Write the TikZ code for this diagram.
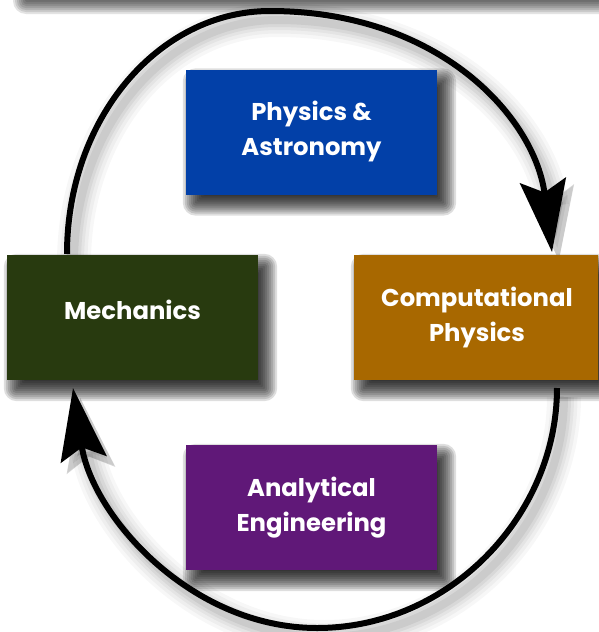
\documentclass[tikz,border=0pt]{standalone}
\usepackage{fontspec}
\setmainfont{Poppins}
\usetikzlibrary{arrows.meta}
\definecolor{cblue}{RGB}{2,64,168}
\definecolor{cgreen}{RGB}{40,58,15}
\definecolor{corange}{RGB}{168,104,0}
\definecolor{cpurple}{RGB}{96,24,120}
\newcommand{\boxtxt}[2][1pt]{\raisebox{#1}[\height][\depth]{\begin{tabular}{@{}c@{}}#2\end{tabular}}}
% soft drop shadow built from stacked translucent rounded rectangles
\newcommand{\softshadow}[1]{%
  \foreach \e in {11,9,...,-9}{%
    \pgfmathsetmacro{\rc}{max(\e,0)+2}%
    \fill[black, opacity=0.13, rounded corners=\rc pt]
      ([shift={(8-\e,10-\e)}]#1.north west) rectangle ([shift={(8+\e,10+\e)}]#1.south east);
  }}
\pgfdeclarelayer{bglow}
\pgfdeclarelayer{shad}
\pgfsetlayers{bglow,shad,main}
\begin{document}
\begin{tikzpicture}[x=1pt,y=-1pt,
  box/.style={rectangle, draw=none, minimum width=251pt, minimum height=125pt,
    text=white, align=center, font=\bfseries\fontsize{24.3}{35}\selectfont},
  cyc/.style={draw=black, line width=6pt,
    -{Stealth[length=72pt, width=46pt, inset=12pt]},
    preaction={draw=black, opacity=0.03, line width=34pt, transform canvas={shift={(7pt,-9pt)}}},
    preaction={draw=black, opacity=0.035, line width=27pt, transform canvas={shift={(7pt,-9pt)}}},
    preaction={draw=black, opacity=0.04, line width=20pt, transform canvas={shift={(7pt,-9pt)}}},
    preaction={draw=black, opacity=0.05, line width=14pt, transform canvas={shift={(7pt,-9pt)}}},
    preaction={draw=black, opacity=0.06, line width=8pt, transform canvas={shift={(7pt,-9pt)}}}}]
\begin{pgfonlayer}{bglow}
\useasboundingbox (0,0) rectangle (598,632);
\fill[white] (0,0) rectangle (598,632);
\end{pgfonlayer}
\clip (0,0) rectangle (598,632);
% top bar (off the page; only its shadow shows)
\begin{pgfonlayer}{shad}
\foreach \e in {11,9,...,-9}{%
  \pgfmathsetmacro{\rc}{max(\e,0)+2}%
  \fill[black, opacity=0.11, rounded corners=\rc pt] (24-\e,-80) rectangle (720,3+\e);
}
\end{pgfonlayer}

% arcs
\coordinate (ts) at (67,254);
\coordinate (tp) at (270,11);
\coordinate (te) at (552,252);
\coordinate (bs) at (557,388);
\coordinate (bp) at (317,628);
\coordinate (be) at (73,388);
\draw[cyc] (ts) .. controls (67,119) and (158,11) .. (tp)
  .. controls (440,11) and (535,118) .. (te);
\draw[cyc] (bs) .. controls (557,515) and (450,628) .. (bp)
  .. controls (190,628) and (92,515) .. (be);

% boxes
\node[box, fill=cblue]   (pa) at (311.5,132) {\boxtxt{Physics \&\\Astronomy}};
\node[box, fill=cgreen]  (me) at (132.5,317.5) {\boxtxt[5pt]{Mechanics}};
\node[box, fill=corange, minimum width=260pt] (cp) at (484,317.5) {\hspace*{-14pt}\boxtxt{Computational\\Physics}};
\node[box, fill=cpurple] (ae) at (311.5,507.5) {\boxtxt{Analytical\\Engineering}};
\begin{pgfonlayer}{shad}
\softshadow{pa}
\softshadow{me}
\softshadow{cp}
\softshadow{ae}
\end{pgfonlayer}
\end{tikzpicture}
\end{document}
